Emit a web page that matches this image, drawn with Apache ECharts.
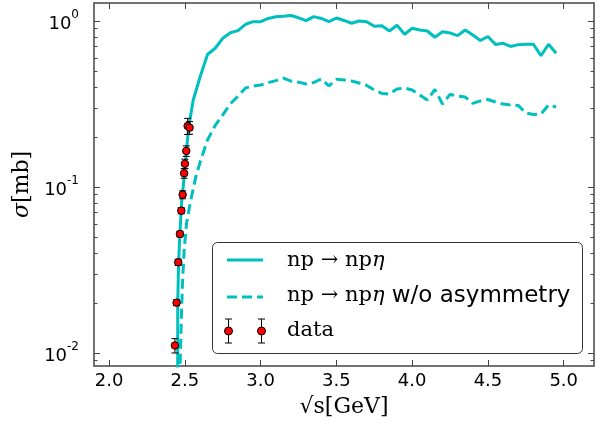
<!DOCTYPE html>
<html><head><meta charset="utf-8">
<script src="https://cdn.jsdelivr.net/npm/echarts@6/dist/echarts.min.js"></script>
<style>html,body{margin:0;padding:0;background:#fff}#c{width:605px;height:428px}</style>
</head><body><div id="c"></div>
<script>
// model curve: np -> np eta
const solidX = [2.4525, 2.4525, 2.4586, 2.467, 2.4757, 2.482, 2.489, 2.510, 2.526, 2.555,
  2.60, 2.65, 2.70, 2.75, 2.80, 2.85, 2.90, 2.95, 3.00, 3.05, 3.10, 3.15, 3.20, 3.25, 3.30,
  3.35, 3.40, 3.45, 3.50, 3.55, 3.60, 3.65, 3.70, 3.75, 3.80, 3.85, 3.90, 3.95, 4.00, 4.05,
  4.10, 4.15, 4.20, 4.25, 4.30, 4.35, 4.40, 4.45, 4.50, 4.55, 4.60, 4.65, 4.70, 4.75, 4.80,
  4.85, 4.90, 4.95];
const solidY = [0.0075, 0.0199, 0.0355, 0.0526, 0.0727, 0.0916, 0.100, 0.165, 0.233, 0.334,
  0.46, 0.63, 0.685, 0.787, 0.85, 0.875, 0.955, 0.99, 0.99, 1.035, 1.06, 1.067, 1.078, 1.045, 1.004,
  1.062, 1.035, 0.99, 1.042, 1.007, 0.969, 1.0, 0.99, 0.929, 0.937, 0.87, 0.942, 0.832, 0.904, 0.883,
  0.87, 0.798, 0.862, 0.847, 0.816, 0.883, 0.823, 0.763, 0.806, 0.722, 0.734, 0.702, 0.72, 0.724, 0.724,
  0.618, 0.724, 0.639];
// model curve: np -> np eta without asymmetry
const dashX = [2.466, 2.478, 2.485, 2.495, 2.511, 2.539, 2.572, 2.605, 2.649,
  2.70, 2.75, 2.80, 2.85, 2.90, 2.95, 3.00, 3.05, 3.10, 3.15, 3.20, 3.25, 3.30,
  3.35, 3.40, 3.45, 3.50, 3.55, 3.60, 3.65, 3.70, 3.75, 3.80, 3.85, 3.90, 3.95, 4.00, 4.05,
  4.10, 4.15, 4.20, 4.25, 4.30, 4.35, 4.40, 4.45, 4.50, 4.55, 4.60, 4.65, 4.70, 4.75, 4.80,
  4.85, 4.90, 4.95];
const dashY = [0.007, 0.0182, 0.0275, 0.0417, 0.0607, 0.0835, 0.1153, 0.1455, 0.192,
  0.235, 0.272, 0.317, 0.352, 0.395, 0.405, 0.4115, 0.425, 0.437, 0.452, 0.434, 0.428, 0.4174,
  0.426, 0.447, 0.406, 0.445, 0.441, 0.435, 0.423, 0.409, 0.384, 0.366, 0.363, 0.389, 0.395, 0.384, 0.358,
  0.334, 0.387, 0.316, 0.361, 0.353, 0.348, 0.319, 0.33, 0.3365, 0.325, 0.316, 0.312, 0.31, 0.279, 0.273,
  0.275, 0.312, 0.303];
// experimental data
const dataX = [2.434, 2.445, 2.456, 2.467, 2.476, 2.485, 2.495, 2.500, 2.509, 2.518, 2.531];
const dataY = [0.0111, 0.0201, 0.0352, 0.0521, 0.0720, 0.0899, 0.1209, 0.138, 0.1648, 0.233, 0.2277];
const dataErr = [0.0011, 0.0008, 0.0015, 0.0020, 0.0030, 0.0050, 0.0080, 0.009, 0.012, 0.026, 0.020];
// axes
const xTicks = [2.0, 2.5, 3.0, 3.5, 4.0, 4.5, 5.0];
const yMajorTicks = [0.01, 0.1, 1];
const yMinorTicks = [0.009, 0.02, 0.03, 0.04, 0.05, 0.06, 0.07, 0.08, 0.09,
  0.2, 0.3, 0.4, 0.5, 0.6, 0.7, 0.8, 0.9];
const yTickLabels = {'-2': '{b|10}{s|-2}', '-1': '{b|10}{s|-1}', '0': '{b|10}{s|0}'};

const CYAN = '#00BFBF';
const AX = '#444';
const X_MIN = 1.9, X_MAX = 5.2, Y_MIN = 0.00835, Y_MAX = 1.283;

function xAxisDef(pos, labels) {
  return {
    type: 'value', min: X_MIN, max: X_MAX, position: pos,
    axisLine: {show: false}, splitLine: {show: false},
    axisTick: {show: true, inside: true, length: 6, customValues: xTicks, lineStyle: {color: AX, width: 1}},
    axisLabel: {show: labels, customValues: xTicks, formatter: v => v.toFixed(1),
      fontFamily: 'DejaVu Sans', fontSize: 18, color: '#000', margin: 6},
    name: labels ? '√s[GeV]' : '', nameLocation: 'middle', nameGap: 30,
    nameTextStyle: {fontFamily: 'DejaVu Serif', fontSize: 22, color: '#000'}
  };
}
function yAxisDef(pos, ticks, len, labels) {
  return {
    type: 'log', logBase: 10, min: Y_MIN, max: Y_MAX, position: pos,
    axisLine: {show: false}, splitLine: {show: false},
    axisTick: {show: true, inside: true, length: len, customValues: ticks, lineStyle: {color: AX, width: 1}},
    axisLabel: {show: labels, customValues: ticks, margin: 15,
      formatter: v => yTickLabels[String(Math.round(Math.log10(v)))] || '',
      rich: {
        b: {fontFamily: 'DejaVu Sans', fontSize: 18, color: '#000', padding: [6, 0, 0, 0]},
        s: {fontFamily: 'DejaVu Sans', fontSize: 12, color: '#000', verticalAlign: 'top'}
      }},
    name: labels ? '{i|σ}{r|[mb]}' : '', nameLocation: 'middle', nameGap: 50, nameRotate: 90,
    nameTextStyle: {rich: {
      i: {fontFamily: 'DejaVu Serif', fontStyle: 'italic', fontSize: 22, color: '#000'},
      r: {fontFamily: 'DejaVu Serif', fontSize: 22, color: '#000'}
    }}
  };
}

const chart = echarts.init(document.getElementById('c'), null, {renderer: 'canvas'});
const serifRich = {
  m: {fontFamily: 'DejaVu Serif', fontSize: 21, color: '#000'},
  i: {fontFamily: 'DejaVu Serif', fontStyle: 'italic', fontSize: 21, color: '#000'},
  s: {fontFamily: 'DejaVu Sans', fontSize: 23, color: '#000'}
};
function legendErr(x, y) {
  return [
    {type: 'line', shape: {x1: x, y1: y - 12, x2: x, y2: y + 12}, style: {stroke: '#000', lineWidth: 1}, z: 101},
    {type: 'line', shape: {x1: x - 3.5, y1: y - 12, x2: x + 3.5, y2: y - 12}, style: {stroke: '#000', lineWidth: 1}, z: 101},
    {type: 'line', shape: {x1: x - 3.5, y1: y + 12, x2: x + 3.5, y2: y + 12}, style: {stroke: '#000', lineWidth: 1}, z: 101},
    {type: 'circle', shape: {cx: x, cy: y, r: 4}, style: {fill: '#f00', stroke: '#000', lineWidth: 1}, z: 102}
  ];
}

chart.setOption({
  animation: false,
  backgroundColor: '#fff',
  grid: {left: 94, right: 11, top: 3, bottom: 62, show: true, borderColor: AX, borderWidth: 1.5, backgroundColor: 'transparent'},
  xAxis: [xAxisDef('bottom', true), xAxisDef('top', false)],
  yAxis: [
    yAxisDef('left', yMajorTicks, 6, true),
    yAxisDef('left', yMinorTicks, 3.5, false),
    yAxisDef('right', yMajorTicks, 6, false),
    yAxisDef('right', yMinorTicks, 3.5, false)
  ],
  series: [
    {type: 'line', name: 'np → npη w/o asymmetry', data: dashX.map((x, i) => [x, dashY[i]]),
      symbol: 'none', clip: true, z: 2,
      lineStyle: {color: CYAN, width: 3, type: [10, 5]}},
    {type: 'line', name: 'np → npη', data: solidX.map((x, i) => [x, solidY[i]]),
      symbol: 'none', clip: true, z: 3,
      lineStyle: {color: CYAN, width: 3}},
    {type: 'custom', name: 'data errors', silent: true, z: 4,
      data: dataX.map((x, i) => [x, dataY[i], dataErr[i]]),
      renderItem: function (params, api) {
        const x = api.value(0), y = api.value(1), e = api.value(2);
        const t = api.coord([x, y + e]), b = api.coord([x, y - e]);
        const w = 3.5, st = {stroke: '#000', lineWidth: 1};
        return {type: 'group', children: [
          {type: 'line', shape: {x1: t[0], y1: t[1], x2: b[0], y2: b[1]}, style: st},
          {type: 'line', shape: {x1: t[0] - w, y1: t[1], x2: t[0] + w, y2: t[1]}, style: st},
          {type: 'line', shape: {x1: b[0] - w, y1: b[1], x2: b[0] + w, y2: b[1]}, style: st}
        ]};
      }},
    {type: 'scatter', name: 'data', data: dataX.map((x, i) => [x, dataY[i]]),
      symbol: 'circle', symbolSize: 7.5, z: 5,
      itemStyle: {color: '#f00', borderColor: '#000', borderWidth: 1, opacity: 1}}
  ],
  graphic: [
    {type: 'rect', shape: {x: 212.5, y: 242.5, width: 370, height: 111, r: 5},
      style: {fill: '#fff', stroke: '#333', lineWidth: 1}, z: 100},
    {type: 'line', shape: {x1: 227, y1: 260, x2: 263, y2: 260}, style: {stroke: CYAN, lineWidth: 3}, z: 101},
    {type: 'line', shape: {x1: 227, y1: 297, x2: 263, y2: 297}, style: {stroke: CYAN, lineWidth: 3, lineDash: [10, 5]}, z: 101},
    ...legendErr(228.5, 331), ...legendErr(261.5, 331),
    {type: 'text', x: 287, y: 261, z: 101, style: {text: '{m|np → np}{i|η}', rich: serifRich, verticalAlign: 'middle', fill: '#000'}},
    {type: 'text', x: 287, y: 296, z: 101, style: {text: '{m|np → np}{i|η}{s| w/o asymmetry}', rich: serifRich, verticalAlign: 'middle', fill: '#000'}},
    {type: 'text', x: 287, y: 331, z: 101, style: {text: '{m|data}', rich: serifRich, verticalAlign: 'middle', fill: '#000'}}
  ]
});
</script>
</body></html>
